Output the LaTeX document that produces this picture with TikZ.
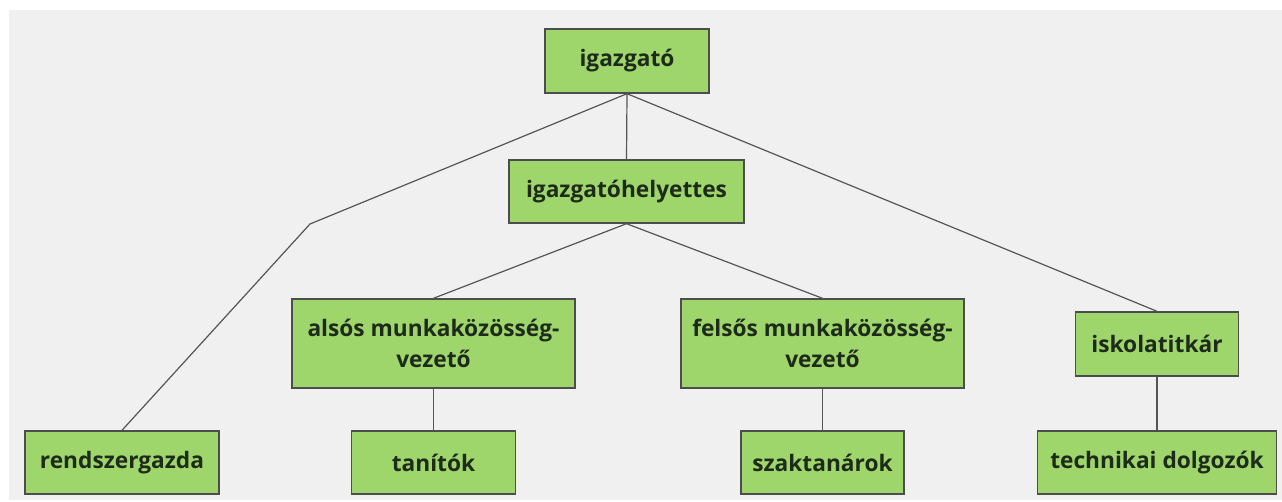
\documentclass[tikz,border=0pt]{standalone}
\usepackage{fontspec}
\setmainfont{Open Sans}
\definecolor{boxfill}{HTML}{9ED66C}
\definecolor{boxline}{HTML}{4D4D4D}
\definecolor{panel}{HTML}{F0F0F0}
\definecolor{txt}{HTML}{1E2A1A}
\definecolor{wire}{HTML}{555555}
\begin{document}
\begin{tikzpicture}[x=1pt,y=-1pt,
  box/.style={draw=boxline,line width=1.4pt,fill=boxfill,inner sep=0pt,
    text=txt,font=\bfseries\fontsize{22.7}{31}\selectfont,align=center},
  wireline/.style={draw=wire,line width=1.2pt}]
\useasboundingbox (0,0) rectangle (1282,502);
\fill[white] (0,0) rectangle (1282,502);
\fill[panel] (9,10) rectangle (1282,500);
\node[box,minimum width=164pt,minimum height=64pt] (dir) at (627,61) {igazgató};
\node[box,minimum width=235pt,minimum height=63pt] (dep) at (626.5,191.5) {igazgatóhelyettes};
\node[box,minimum width=283pt,minimum height=89pt] (als) at (433.5,343.5) {alsós munkaközösség-\\vezető};
\node[box,minimum width=283pt,minimum height=89pt] (fel) at (822.5,343.5) {felsős munkaközösség-\\vezető};
\node[box,minimum width=163pt,minimum height=64pt] (isk) at (1157,344) {iskolatitkár};
\node[box,minimum width=194pt,minimum height=63pt] (rend) at (122,462.5) {rendszergazda};
\node[box,minimum width=164pt,minimum height=63pt] (tan) at (433.5,462.5) {tanítók};
\node[box,minimum width=163pt,minimum height=63pt] (szak) at (822.5,462.5) {szaktanárok};
\node[box,minimum width=239pt,minimum height=63pt] (tech) at (1157,462.5) {technikai dolgozók};
\coordinate (bend) at (310,224);
\draw[wireline] (dir.south) -- (bend) -- (rend.north);
\draw[wireline] (dir.south) -- (dep.north);
\draw[wireline] (dir.south) -- (isk.north);
\draw[wireline] (dep.south) -- (als.north);
\draw[wireline] (dep.south) -- (fel.north);
\draw[wireline] (als.south) -- (tan.north);
\draw[wireline] (fel.south) -- (szak.north);
\draw[wireline] (isk.south) -- (tech.north);
\end{tikzpicture}
\end{document}
